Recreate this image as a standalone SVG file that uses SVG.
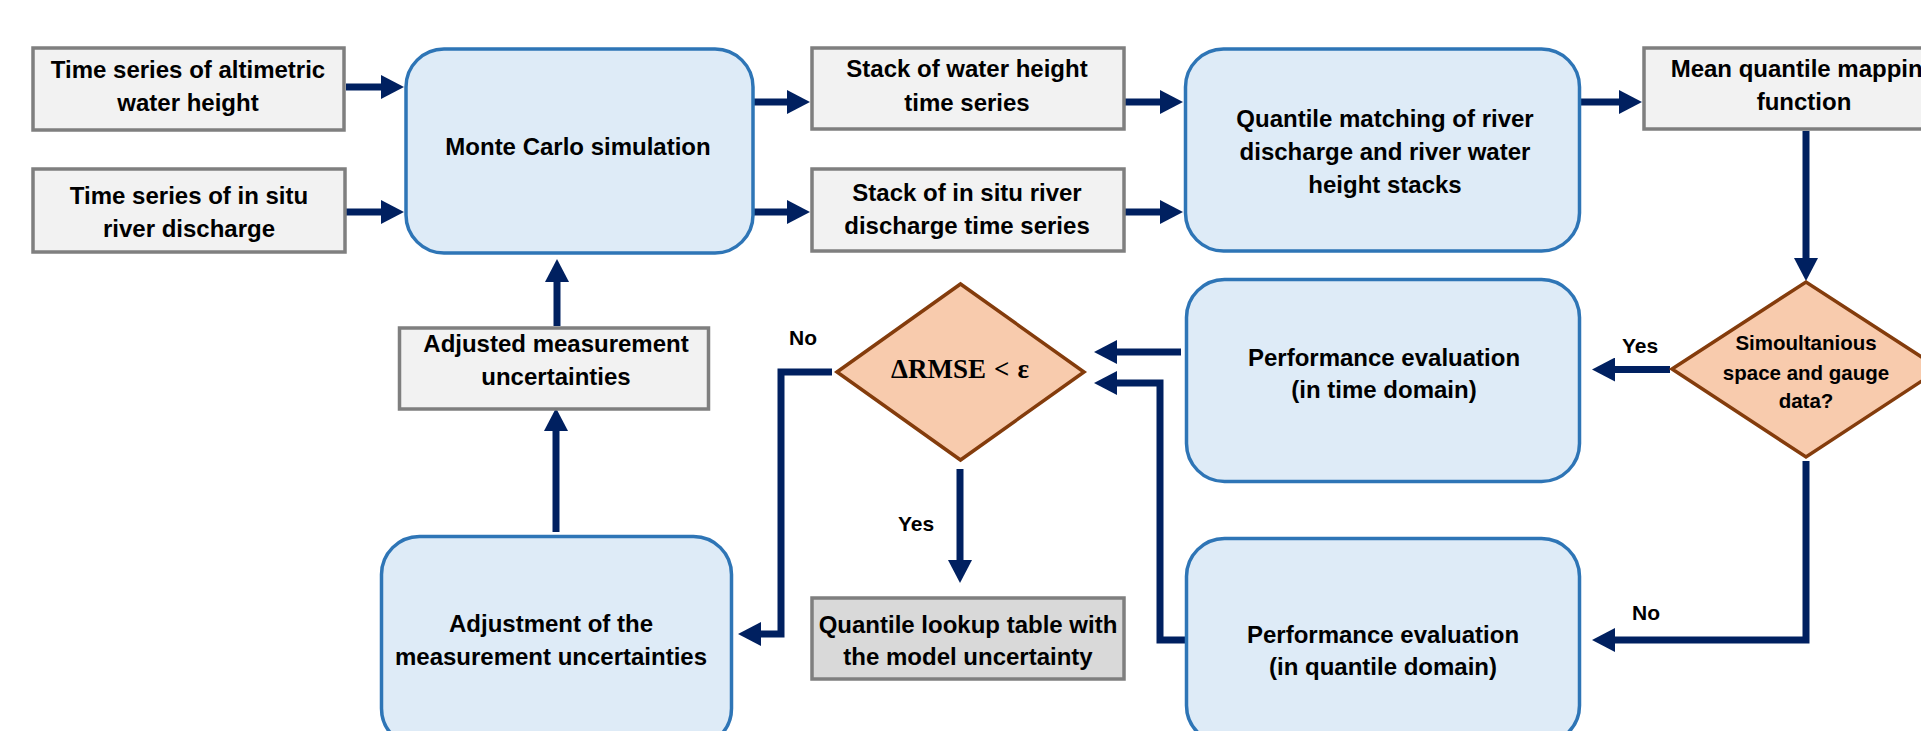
<svg xmlns="http://www.w3.org/2000/svg" width="1921" height="731" viewBox="0 0 1921 731">
<defs>
<style>
.gray{fill:#f2f2f2;stroke:#7f7f7f;stroke-width:3.5}
.dark{fill:#d9d9d9;stroke:#7f7f7f;stroke-width:3.5}
.blue{fill:#deebf7;stroke:#2e75b6;stroke-width:3.5}
.dia{fill:#f8cbad;stroke:#843c0c;stroke-width:3.5}
.t{font-family:"Liberation Sans",Arial,sans-serif;font-weight:bold;font-size:24px;fill:#000;text-anchor:middle}
.s{font-family:"Liberation Sans",Arial,sans-serif;font-weight:bold;font-size:20.5px;fill:#000;text-anchor:middle}
.l{font-family:"Liberation Sans",Arial,sans-serif;font-weight:bold;font-size:21px;fill:#000;text-anchor:middle}
.m{font-family:"Liberation Serif","Times New Roman",serif;font-weight:bold;font-size:27px;fill:#000;text-anchor:middle}
.c{fill:none;stroke:#002060;stroke-width:7;stroke-linejoin:miter;marker-end:url(#ah)}
</style>
<marker id="ah" markerUnits="userSpaceOnUse" markerWidth="23" markerHeight="24" refX="13" refY="12" orient="auto" viewBox="0 0 23 24">
<path d="M0,0 L23,12 L0,24 Z" fill="#002060"/>
</marker>
</defs>
<rect width="1921" height="731" fill="#ffffff"/>

<g id="connectors">
<path class="c" d="M346,87 H394"/>
<path class="c" d="M346,212 H394"/>
<path class="c" d="M754,102 H800"/>
<path class="c" d="M754,212 H800"/>
<path class="c" d="M1125,102 H1173"/>
<path class="c" d="M1125,212 H1173"/>
<path class="c" d="M1581,102 H1632"/>
<path class="c" d="M1806,131 V271"/>
<path class="c" d="M1670,369.5 H1602"/>
<path class="c" d="M1806,461 V640 H1602"/>
<path class="c" d="M1181,352 H1104"/>
<path class="c" d="M1185,640 H1160 V383 H1104"/>
<path class="c" d="M960,469 V573"/>
<path class="c" d="M832,372 H781 V634 H748"/>
<path class="c" d="M556,532 V418"/>
<path class="c" d="M557,326 V269"/>
</g>

<g id="altimetric">
<rect class="gray" x="33" y="48" width="311" height="82"/>
<text class="t" x="188" y="78">Time series of altimetric</text>
<text class="t" x="188" y="111">water height</text>
</g>

<g id="insitu">
<rect class="gray" x="33" y="169" width="312" height="83"/>
<text class="t" x="189" y="204">Time series of in situ</text>
<text class="t" x="189" y="237">river discharge</text>
</g>

<g id="montecarlo">
<rect class="blue" x="406" y="49" width="347" height="204" rx="38" ry="38"/>
<text class="t" x="578" y="155">Monte Carlo simulation</text>
</g>

<g id="stackwater">
<rect class="gray" x="812" y="48" width="312" height="81"/>
<text class="t" x="967" y="77">Stack of water height</text>
<text class="t" x="967" y="111">time series</text>
</g>

<g id="stackinsitu">
<rect class="gray" x="812" y="169" width="312" height="82"/>
<text class="t" x="967" y="201">Stack of in situ river</text>
<text class="t" x="967" y="234">discharge time series</text>
</g>

<g id="quantilematching">
<rect class="blue" x="1185.5" y="49" width="394" height="202" rx="38" ry="38"/>
<text class="t" x="1385" y="127">Quantile matching of river</text>
<text class="t" x="1385" y="160">discharge and river water</text>
<text class="t" x="1385" y="193">height stacks</text>
</g>

<g id="meanmapping">
<rect class="gray" x="1644" y="48" width="330" height="81"/>
<text class="t" x="1804" y="77">Mean quantile mapping</text>
<text class="t" x="1804" y="110">function</text>
</g>

<g id="simultaneous">
<polygon class="dia" points="1672,369 1806,282 1940,369 1806,457"/>
<text class="s" x="1806" y="350">Simoultanious</text>
<text class="s" x="1806" y="380">space and gauge</text>
<text class="s" x="1806" y="408">data?</text>
</g>

<g id="perftime">
<rect class="blue" x="1186.5" y="279.5" width="393" height="202" rx="38" ry="38"/>
<text class="t" x="1384" y="366">Performance evaluation</text>
<text class="t" x="1384" y="398">(in time domain)</text>
</g>

<g id="perfquantile">
<rect class="blue" x="1186.5" y="538.5" width="393" height="205" rx="38" ry="38"/>
<text class="t" x="1383" y="643">Performance evaluation</text>
<text class="t" x="1383" y="675">(in quantile domain)</text>
</g>

<g id="rmse">
<polygon class="dia" points="837,372 960.5,284 1084,372 960.5,460"/>
<text class="m" x="960" y="378">ΔRMSE<tspan dx="8">&lt;</tspan><tspan dx="8">ε</tspan></text>
</g>

<g id="lookup">
<rect class="dark" x="812" y="598" width="312" height="81"/>
<text class="t" x="968" y="633">Quantile lookup table with</text>
<text class="t" x="968" y="665">the model uncertainty</text>
</g>

<g id="adjusted">
<rect class="gray" x="399.5" y="328" width="309" height="81"/>
<text class="t" x="556" y="352">Adjusted measurement</text>
<text class="t" x="556" y="385">uncertainties</text>
</g>

<g id="adjustment">
<rect class="blue" x="381.5" y="536.5" width="350" height="210" rx="38" ry="38"/>
<text class="t" x="551" y="632">Adjustment of the</text>
<text class="t" x="551" y="665">measurement uncertainties</text>
</g>

<g id="labels">
<text class="l" x="803" y="345">No</text>
<text class="l" x="916" y="531">Yes</text>
<text class="l" x="1640" y="353">Yes</text>
<text class="l" x="1646" y="620">No</text>
</g>
</svg>
